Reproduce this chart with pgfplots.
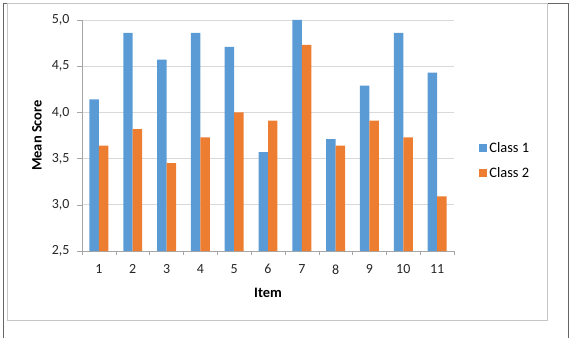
\documentclass[border=0pt]{standalone}
\usepackage{pgfplots}
\pgfplotsset{compat=1.18}
\usepackage{fontspec}
\setmainfont{Carlito}
\definecolor{cblue}{HTML}{5B9BD5}
\definecolor{corange}{HTML}{ED7D31}
\definecolor{gridc}{HTML}{D9D9D9}
\definecolor{axc}{HTML}{A6A6A6}
\begin{document}
\begin{tikzpicture}[x=1bp,y=1bp]
\useasboundingbox (0,0) rectangle (570,338);
\draw[gray!80!black,line width=0.8bp] (3,0) -- (3,335) -- (568,335) -- (568,0);
\draw[gray!45,line width=0.8bp] (7,18) rectangle (547,335);
\begin{axis}[
  at={(82bp,87bp)}, anchor=south west,
  width=372bp, height=231bp, scale only axis,
  xmin=0.5, xmax=11.5, ymin=2.5, ymax=5.0,
  ybar, bar width=0.28, bar shift=0pt,
  xtick={1,...,11},
  minor xtick={0.5,1.5,...,11.5},
  ytick={2.5,3.0,...,5.0},
  major x tick style={draw=none},
  minor tick length=4bp,
  major tick length=5bp,
  tick align=outside,
  xtick pos=bottom, ytick pos=left,
  axis x line*=bottom, axis y line*=left,
  x axis line style={axc,-},
  y axis line style={axc,-},
  every tick/.style={axc},
  ymajorgrids, grid style={gridc, line width=0.8bp},
  /pgf/number format/assume math mode=true,
  yticklabel style={/pgf/number format/.cd, use comma, fixed, fixed zerofill, precision=1, /tikz/.cd, xshift=-4bp},
  xticklabel style={yshift=-5bp},
  tick label style={font=\fontsize{14}{16}\selectfont, text=black!85},
  ylabel={\textbf{Mean Score}},
  xlabel={\textbf{Item}},
  label style={font=\fontsize{14.5}{17}\selectfont},
  ylabel style={at={(axis description cs:-0.121,0.5)}, anchor=center},
  xlabel style={at={(axis description cs:0.5,-0.182)}, anchor=center},
  legend style={draw=none, at={(rel axis cs:1.065,0.39)}, anchor=west,
    font=\fontsize{14.5}{17}\selectfont, row sep=10bp, inner sep=1bp,
    /tikz/every even column/.append style={column sep=1bp}},
  legend image code/.code={\fill[#1] (0bp,-3.5bp) rectangle (8bp,4.5bp);},
  clip=false,
]
\addplot[fill=cblue, draw=none, bar shift=-0.14] coordinates {
 (1,4.14) (2,4.86) (3,4.57) (4,4.86) (5,4.71) (6,3.57) (7,5.00) (8,3.71) (9,4.29) (10,4.86) (11,4.43)};
\addplot[fill=corange, draw=none, bar shift=0.14] coordinates {
 (1,3.64) (2,3.82) (3,3.45) (4,3.73) (5,4.00) (6,3.91) (7,4.73) (8,3.64) (9,3.91) (10,3.73) (11,3.09)};
\legend{Class 1, Class 2}
\end{axis}
\end{tikzpicture}
\end{document}
